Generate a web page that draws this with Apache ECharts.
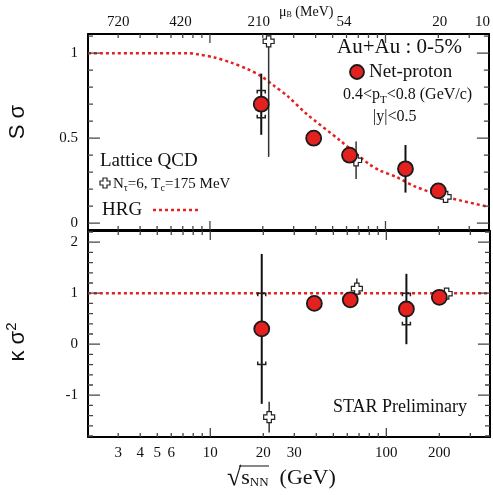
<!DOCTYPE html>
<html>
<head>
<meta charset="utf-8">
<script src="https://cdn.jsdelivr.net/npm/echarts@6/dist/echarts.min.js"></script>
<style>
  html, body { margin: 0; padding: 0; background: #fff; }
  #chart { width: 493px; height: 495px; }
</style>
</head>
<body>
<div id="chart"></div>
<script>
// STAR net-proton data, sqrt(s_NN) in GeV
const energies = [19.6, 39, 62.4, 130, 200]
const sSigma = [0.70, 0.50, 0.40, 0.32, 0.19]
const sSigmaStat = [0.18, 0, 0, 0.14, 0]
const sSigmaSys = [0.08, 0, 0, 0, 0]
const kSigma2 = [0.30, 0.80, 0.87, 0.69, 0.92]
const kSigma2Stat = [1.47, 0, 0, 0.69, 0]
const kSigma2Sys = [0.70, 0, 0, 0.31, 0]

// Lattice QCD (N_tau=6, T_c=175 MeV)
const latticeEnergies = [21.6, 68, 220]
const latticeS = [1.07, 0.37, 0.155]
const latticeSErr = [0.68, 0.11, 0]
const latticeK = [-1.43, 1.09, 0.99]
const latticeKErr = [0.30, 0.20, 0]

// HRG curve
const hrgEnergies = [2.02, 7.5, 8.5, 10.6, 13.2, 16.4, 19.5, 23.2, 27.6, 35.3, 54.6, 80.8, 92, 115, 149, 221, 388]
const hrgS = [1, 1, 0.994, 0.975, 0.945, 0.906, 0.866, 0.808, 0.749, 0.645, 0.49, 0.347, 0.312, 0.272, 0.214, 0.155, 0.096]
const hrgKEnergies = [2.02, 388]
const hrgK = [1, 1]

// axes
const xMinorTicks = [3, 4, 5, 6, 7, 8, 9, 20, 30, 40, 50, 60, 70, 80, 90, 200, 300]
const xMajorTicks = [10, 100]
const xLabels = [3, 4, 5, 6, 10, 20, 30, 100, 200]
const muBPos = [3, 6.8, 19, 58, 204, 357]
const muBLabels = ['720', '420', '210', '54', '20', '10']
const sMinor = [0.1, 0.2, 0.3, 0.4, 0.6, 0.7, 0.8, 0.9, 1.1]
const sMajor = [0, 0.5, 1]
const sLabels = [0, 0.5, 1]
const kMinor = [-1.8, -1.6, -1.4, -1.2, -0.8, -0.6, -0.4, -0.2, 0.2, 0.4, 0.6, 0.8, 1.2, 1.4, 1.6, 1.8, 2.2]
const kMajor = [-1, 0, 1, 2]
const kLabels = [-1, 0, 1, 2]

const L10 = Math.log10
const xMin = L10(2.02), xMax = L10(388)
const sRange = [-0.04, 1.113]
const kRange = [-1.82, 2.22]
const serif = 'Liberation Serif'
const sans = 'Liberation Sans'
const red = '#e3211f'

// grid boxes in px
const gridW = 402
const topH = 196, botH = 206

let myChart = echarts.init(document.getElementById('chart'), null, { renderer: 'canvas' })

function findLabel(v, pos, txt) {
    for (let i = 0; i < pos.length; i++) {
        if (Math.abs(pos[i] - v) < 1e-6) return txt[i]
    }
    return ''
}

function xAx(grid, side, labels, texts) {
    let ax = {
        type: 'value', gridIndex: grid, position: side, min: xMin, max: xMax,
        splitLine: { show: false },
        axisLine: { show: true, onZero: false, lineStyle: { color: '#000', width: 2 } },
        axisTick: { show: false },
        axisLabel: { show: false }
    }
    if (labels) {
        let pos = labels.map(L10)
        ax.axisLabel = {
            show: true, customValues: pos, color: '#111', fontFamily: serif, fontSize: 15, margin: 7,
            formatter: v => findLabel(v, pos, texts)
        }
    }
    return ax
}

function yAx(grid, side, range, labels) {
    let ax = {
        type: 'value', gridIndex: grid, position: side, min: range[0], max: range[1],
        splitLine: { show: false },
        axisLine: { show: true, onZero: false, lineStyle: { color: '#000', width: 2 } },
        axisTick: { show: false },
        axisLabel: { show: false }
    }
    if (labels) {
        ax.axisLabel = {
            show: true, customValues: labels, color: '#111', fontFamily: serif, fontSize: 15, margin: 10,
            formatter: v => findLabel(v, labels, labels.map(String))
        }
    }
    return ax
}

let xAxes = [
    xAx(0, 'bottom'),
    xAx(0, 'top', muBPos, muBLabels),
    xAx(1, 'bottom', xLabels, xLabels.map(String)),
    xAx(1, 'top')
]
xAxes[1].axisLabel.margin = 4
xAxes[2].axisLabel.margin = 9

let yAxes = [
    yAx(0, 'left', sRange, sLabels),
    yAx(0, 'right', sRange),
    yAx(1, 'left', kRange, kLabels),
    yAx(1, 'right', kRange)
]

// inward ticks as broken line series (tick length given in px, turned into axis units)
function tickLineSeries(idx, range, panelH, xMinor, xMajor, yMinor, yMajor) {
    let dy = px => px * (range[1] - range[0]) / panelH
    let dx = px => px * (xMax - xMin) / gridW
    let pts = []
    let gap = ['-', '-']
    let xt = (v, len) => {
        let x = L10(v)
        pts.push([x, range[1]], [x, range[1] - dy(len)], gap)
        pts.push([x, range[0]], [x, range[0] + dy(len)], gap)
    }
    let yt = (v, len) => {
        pts.push([xMin, v], [xMin + dx(len), v], gap)
        pts.push([xMax, v], [xMax - dx(len), v], gap)
    }
    xMinor.forEach(v => xt(v, 4))
    xMajor.forEach(v => xt(v, 9))
    yMinor.forEach(v => yt(v, 5))
    yMajor.forEach(v => yt(v, 12))
    return {
        type: 'line', xAxisIndex: idx, yAxisIndex: idx, z: 10, silent: true,
        showSymbol: false, symbol: 'none', connectNulls: false, clip: false,
        data: pts,
        lineStyle: { color: '#444', width: 1.3 }
    }
}

function errSeries(idx, xs, ys, errs, sys, lw, color, z) {
    return {
        type: 'custom', xAxisIndex: idx, yAxisIndex: idx, z: z, clip: true, silent: true,
        data: xs.map((e, i) => [L10(e), ys[i], errs[i], sys ? sys[i] : 0]),
        renderItem: (params, api) => {
            let x = api.value(0), y = api.value(1), er = api.value(2), sy = api.value(3)
            let kids = []
            if (er > 0) {
                let p1 = api.coord([x, y + er]), p2 = api.coord([x, y - er])
                kids.push({ type: 'line', shape: { x1: p1[0], y1: p1[1], x2: p2[0], y2: p2[1] }, style: { stroke: color, lineWidth: lw } })
            }
            if (sy > 0) {
                let t = api.coord([x, y + sy]), b = api.coord([x, y - sy])
                kids.push({ type: 'polyline', shape: { points: [[t[0] - 4, t[1] + 3], [t[0] - 4, t[1]], [t[0] + 4, t[1]], [t[0] + 4, t[1] + 3]] }, style: { stroke: '#222', fill: null, lineWidth: 1.5 } })
                kids.push({ type: 'polyline', shape: { points: [[b[0] - 4, b[1] - 3], [b[0] - 4, b[1]], [b[0] + 4, b[1]], [b[0] + 4, b[1] - 3]] }, style: { stroke: '#222', fill: null, lineWidth: 1.5 } })
            }
            return { type: 'group', children: kids }
        }
    }
}

const crossPath = 'path://M3,0 H7 V3 H10 V7 H7 V10 H3 V7 H0 V3 H3 Z'

function pointSeries(idx, xs, ys, circle, z) {
    return {
        type: 'scatter', xAxisIndex: idx, yAxisIndex: idx, z: z, silent: true,
        data: xs.map((e, i) => [L10(e), ys[i]]),
        symbol: circle ? 'circle' : crossPath,
        symbolSize: circle ? 15 : 11,
        itemStyle: circle
            ? { color: red, borderColor: '#1a1a1a', borderWidth: 1.8, opacity: 1 }
            : { color: '#fff', borderColor: '#222', borderWidth: 1.2, opacity: 1 }
    }
}

function hrgSeries(idx, xs, ys) {
    return {
        type: 'line', xAxisIndex: idx, yAxisIndex: idx, z: 2, silent: true, smooth: 0.3,
        showSymbol: false,
        data: xs.map((e, i) => [L10(e), ys[i]]),
        lineStyle: { color: red, width: 2.5, type: [3, 3] }
    }
}

let txt = (x, y, text, size) => ({
    type: 'text', x: x, y: y,
    style: { text: text, fontFamily: serif, fontSize: size, fill: '#111', textVerticalAlign: 'middle' }
})

// little open cross for the legend
let cx = 100, cy = 178
let crossPts = [[3, 0], [7, 0], [7, 3], [10, 3], [10, 7], [7, 7], [7, 10], [3, 10], [3, 7], [0, 7], [0, 3], [3, 3]].map(p => [p[0] + cx, p[1] + cy])

myChart.setOption({
    animation: false,
    grid: [
        { left: 88, top: 34, width: gridW, height: topH },
        { left: 88, top: 231, width: gridW, height: botH }
    ],
    xAxis: xAxes,
    yAxis: yAxes,
    series: [
        hrgSeries(0, hrgEnergies, hrgS),
        hrgSeries(2, hrgKEnergies, hrgK),
        tickLineSeries(0, sRange, topH, xMinorTicks, xMajorTicks, sMinor, sMajor),
        tickLineSeries(2, kRange, botH, xMinorTicks, xMajorTicks, kMinor, kMajor),
        errSeries(0, latticeEnergies, latticeS, latticeSErr, null, 1.5, '#333', 3),
        errSeries(2, latticeEnergies, latticeK, latticeKErr, null, 1.5, '#333', 3),
        errSeries(0, energies, sSigma, sSigmaStat, sSigmaSys, 2, '#111', 4),
        errSeries(2, energies, kSigma2, kSigma2Stat, kSigma2Sys, 2, '#111', 4),
        pointSeries(0, latticeEnergies, latticeS, false, 5),
        pointSeries(2, latticeEnergies, latticeK, false, 5),
        pointSeries(0, energies, sSigma, true, 6),
        pointSeries(2, energies, kSigma2, true, 6)
    ],
    graphic: [
        // y titles
        {
            type: 'text', x: 18, y: 122, rotation: Math.PI / 2,
            style: { text: 'S σ', fontFamily: sans, fontSize: 22, fill: '#111', textAlign: 'center', textVerticalAlign: 'middle' }
        },
        {
            type: 'text', x: 18, y: 342, rotation: Math.PI / 2,
            style: { text: '{a|κ σ}{b|2}', textAlign: 'center', textVerticalAlign: 'middle',
                rich: {
                    a: { fontFamily: sans, fontSize: 22, fill: '#111' },
                    b: { fontFamily: sans, fontSize: 15, fill: '#111', padding: [0, 0, 12, 0] }
                } }
        },
        // x title
        {
            type: 'text', x: 227, y: 478,
            style: { text: '{r|√}{s|s}{sub|NN}{g|  (GeV)}', textVerticalAlign: 'middle',
                rich: {
                    r: { fontFamily: serif, fontSize: 26, fill: '#111' },
                    s: { fontFamily: serif, fontSize: 22, fill: '#111' },
                    sub: { fontFamily: serif, fontSize: 13, fill: '#111', padding: [10, 0, 0, 0] },
                    g: { fontFamily: serif, fontSize: 22, fill: '#111' }
                } }
        },
        { type: 'line', shape: { x1: 239, y1: 466, x2: 269, y2: 466 }, style: { stroke: '#111', lineWidth: 1 } },
        // top axis title
        {
            type: 'text', x: 279, y: 12,
            style: { text: '{m|μ}{b|B}{t| (MeV)}', textVerticalAlign: 'middle',
                rich: {
                    m: { fontFamily: serif, fontSize: 14, fill: '#111' },
                    b: { fontFamily: serif, fontSize: 8, fill: '#111', padding: [6, 0, 0, 0] },
                    t: { fontFamily: serif, fontSize: 14, fill: '#111' }
                } }
        },
        txt(337, 47, 'Au+Au : 0-5%', 21),
        { type: 'circle', shape: { cx: 357, cy: 72, r: 7 }, style: { fill: red, stroke: '#1a1a1a', lineWidth: 1.8 } },
        txt(369, 72, 'Net-proton', 19),
        {
            type: 'text', x: 343, y: 95,
            style: { text: '{a|0.4<p}{s|T}{a|<0.8 (GeV/c)}', textVerticalAlign: 'middle',
                rich: {
                    a: { fontFamily: serif, fontSize: 16, fill: '#111' },
                    s: { fontFamily: serif, fontSize: 11, fill: '#111', padding: [10, 0, 0, 0] }
                } }
        },
        txt(373, 117, '|y|<0.5', 16),
        txt(100, 161, 'Lattice QCD', 19),
        { type: 'polygon', shape: { points: crossPts }, style: { fill: '#fff', stroke: '#222', lineWidth: 1.2 } },
        {
            type: 'text', x: 113, y: 184,
            style: { text: '{a|N}{s|τ}{a|=6, T}{s|c}{a|=175 MeV}', textVerticalAlign: 'middle',
                rich: {
                    a: { fontFamily: serif, fontSize: 15, fill: '#111' },
                    s: { fontFamily: serif, fontSize: 10, fill: '#111', padding: [8, 0, 0, 0] }
                } }
        },
        txt(102, 210, 'HRG', 19),
        { type: 'line', shape: { x1: 153, y1: 210, x2: 198, y2: 210 }, style: { stroke: red, lineWidth: 2.5, lineDash: [3, 3] } },
        txt(333, 407, 'STAR Preliminary', 18)
    ]
})

window.addEventListener('resize', () => {
    myChart.resize()
})
</script>
</body>
</html>
